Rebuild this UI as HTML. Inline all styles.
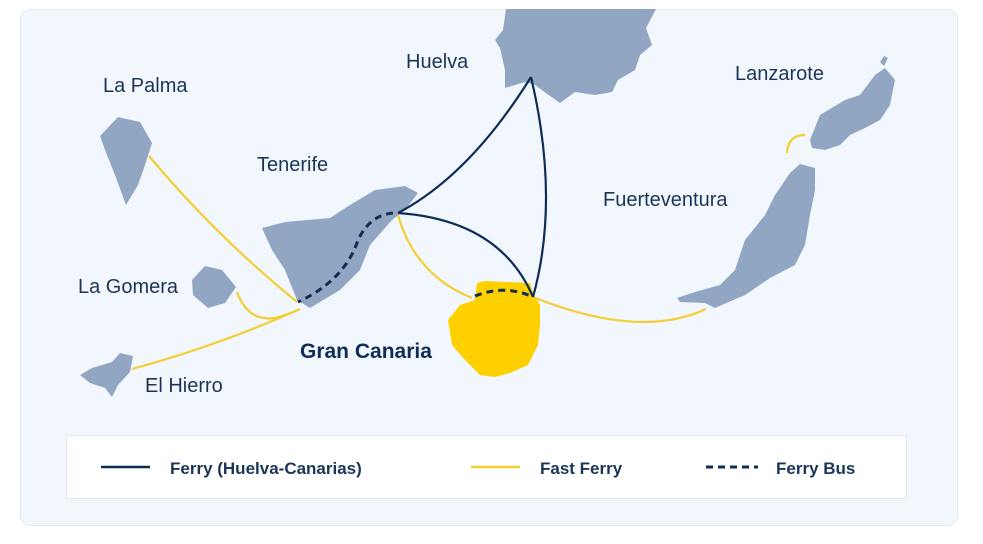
<!DOCTYPE html>
<html><head><style>
body{margin:0;background:#fff;width:983px;height:539px;overflow:hidden;font-family:"Liberation Sans",sans-serif}
</style></head><body>
<svg width="983" height="539" viewBox="0 0 983 539" xmlns="http://www.w3.org/2000/svg">
<rect x="20.5" y="9.5" width="937" height="516" rx="10" fill="#f2f6fd" stroke="#e3e7ee"/>
<g fill="#91a6c2">
<polygon points="100,136 118,117 140,122 152,143 145,165 138,185 126,205 115,175 105,150"/>
<polygon points="262,228 285,222 330,218 350,205 375,190 405,186 418,193 405,210 392,220 370,245 360,270 340,290 310,308 297,300 285,270 272,250"/>
<polygon points="192,280 205,266 222,270 236,287 225,303 208,308 193,295"/>
<polygon points="80,375 92,368 112,362 120,353 133,356 130,372 118,385 112,397 105,388 90,383"/>
<polygon points="506,9 656,9 646,28 652,45 640,55 635,70 618,80 612,92 595,95 575,92 560,103 550,96 535,85 525,82 505,88 505,70 500,48 495,40 503,30"/>
<polygon points="810,140 820,115 845,100 860,95 875,75 885,68 895,80 890,105 880,120 865,128 850,135 840,145 825,150 812,148"/>
<polygon points="880,62 884,56 888,58 884,66"/>
<polygon points="790,173 800,164 815,168 815,190 810,215 805,245 795,265 770,278 745,295 715,308 705,303 680,302 677,298 695,292 720,285 735,270 745,240 765,215 775,195"/>
</g>
<polygon fill="#ffd000" points="448,320 460,305 475,300 477,283 485,281 530,283 533,293 540,305 540,325 538,345 528,365 510,373 495,377 480,375 465,360 452,345"/>
<g fill="none" stroke="#f3cf33" stroke-width="2.2">
<path d="M149,156 Q215,235 297,302"/>
<path d="M237,292 Q248,322 275,318 Q290,314 300,309"/>
<path d="M132,369 Q220,345 300,309"/>
<path d="M398,215 Q415,275 472,298"/>
<path d="M533,297 Q640,340 706,309"/>
<path d="M787,153 Q788,135 805,135"/>
</g>
<g fill="none" stroke="#0f2d57" stroke-width="2.2">
<path d="M531,77 Q470,175 398,213"/>
<path d="M531,77 Q560,200 533,297"/>
<path d="M398,213 Q500,220 533,297"/>
</g>
<g fill="none" stroke="#0f2d57" stroke-width="3" stroke-dasharray="7,5">
<path d="M393,213 Q370,215 358,240 Q345,280 298,302"/>
<path d="M475,296 Q505,284 533,297"/>
</g>
<g fill="#1c3557" font-size="20">
<text x="406" y="68">Huelva</text>
<text x="103" y="92">La Palma</text>
<text x="257" y="171">Tenerife</text>
<text x="78" y="293">La Gomera</text>
<text x="145" y="392">El Hierro</text>
<text x="603" y="206">Fuerteventura</text>
<text x="735" y="80">Lanzarote</text>
<text x="300" y="358" font-weight="bold" font-size="21" fill="#0f2d57">Gran Canaria</text>
</g>
<rect x="66.5" y="435.5" width="840" height="63" fill="#fff" stroke="#e3e7ee"/>
<line x1="101" y1="467" x2="150" y2="467" stroke="#0f2d57" stroke-width="2.5"/>
<line x1="471" y1="467" x2="520" y2="467" stroke="#f3cf33" stroke-width="2.5"/>
<line x1="706" y1="467" x2="758" y2="467" stroke="#0f2d57" stroke-width="3" stroke-dasharray="7,5"/>
<g fill="#1c3557" font-size="17" font-weight="bold">
<text x="170" y="474">Ferry (Huelva-Canarias)</text>
<text x="540" y="474">Fast Ferry</text>
<text x="776" y="474">Ferry Bus</text>
</g>
</svg>
</body></html>
